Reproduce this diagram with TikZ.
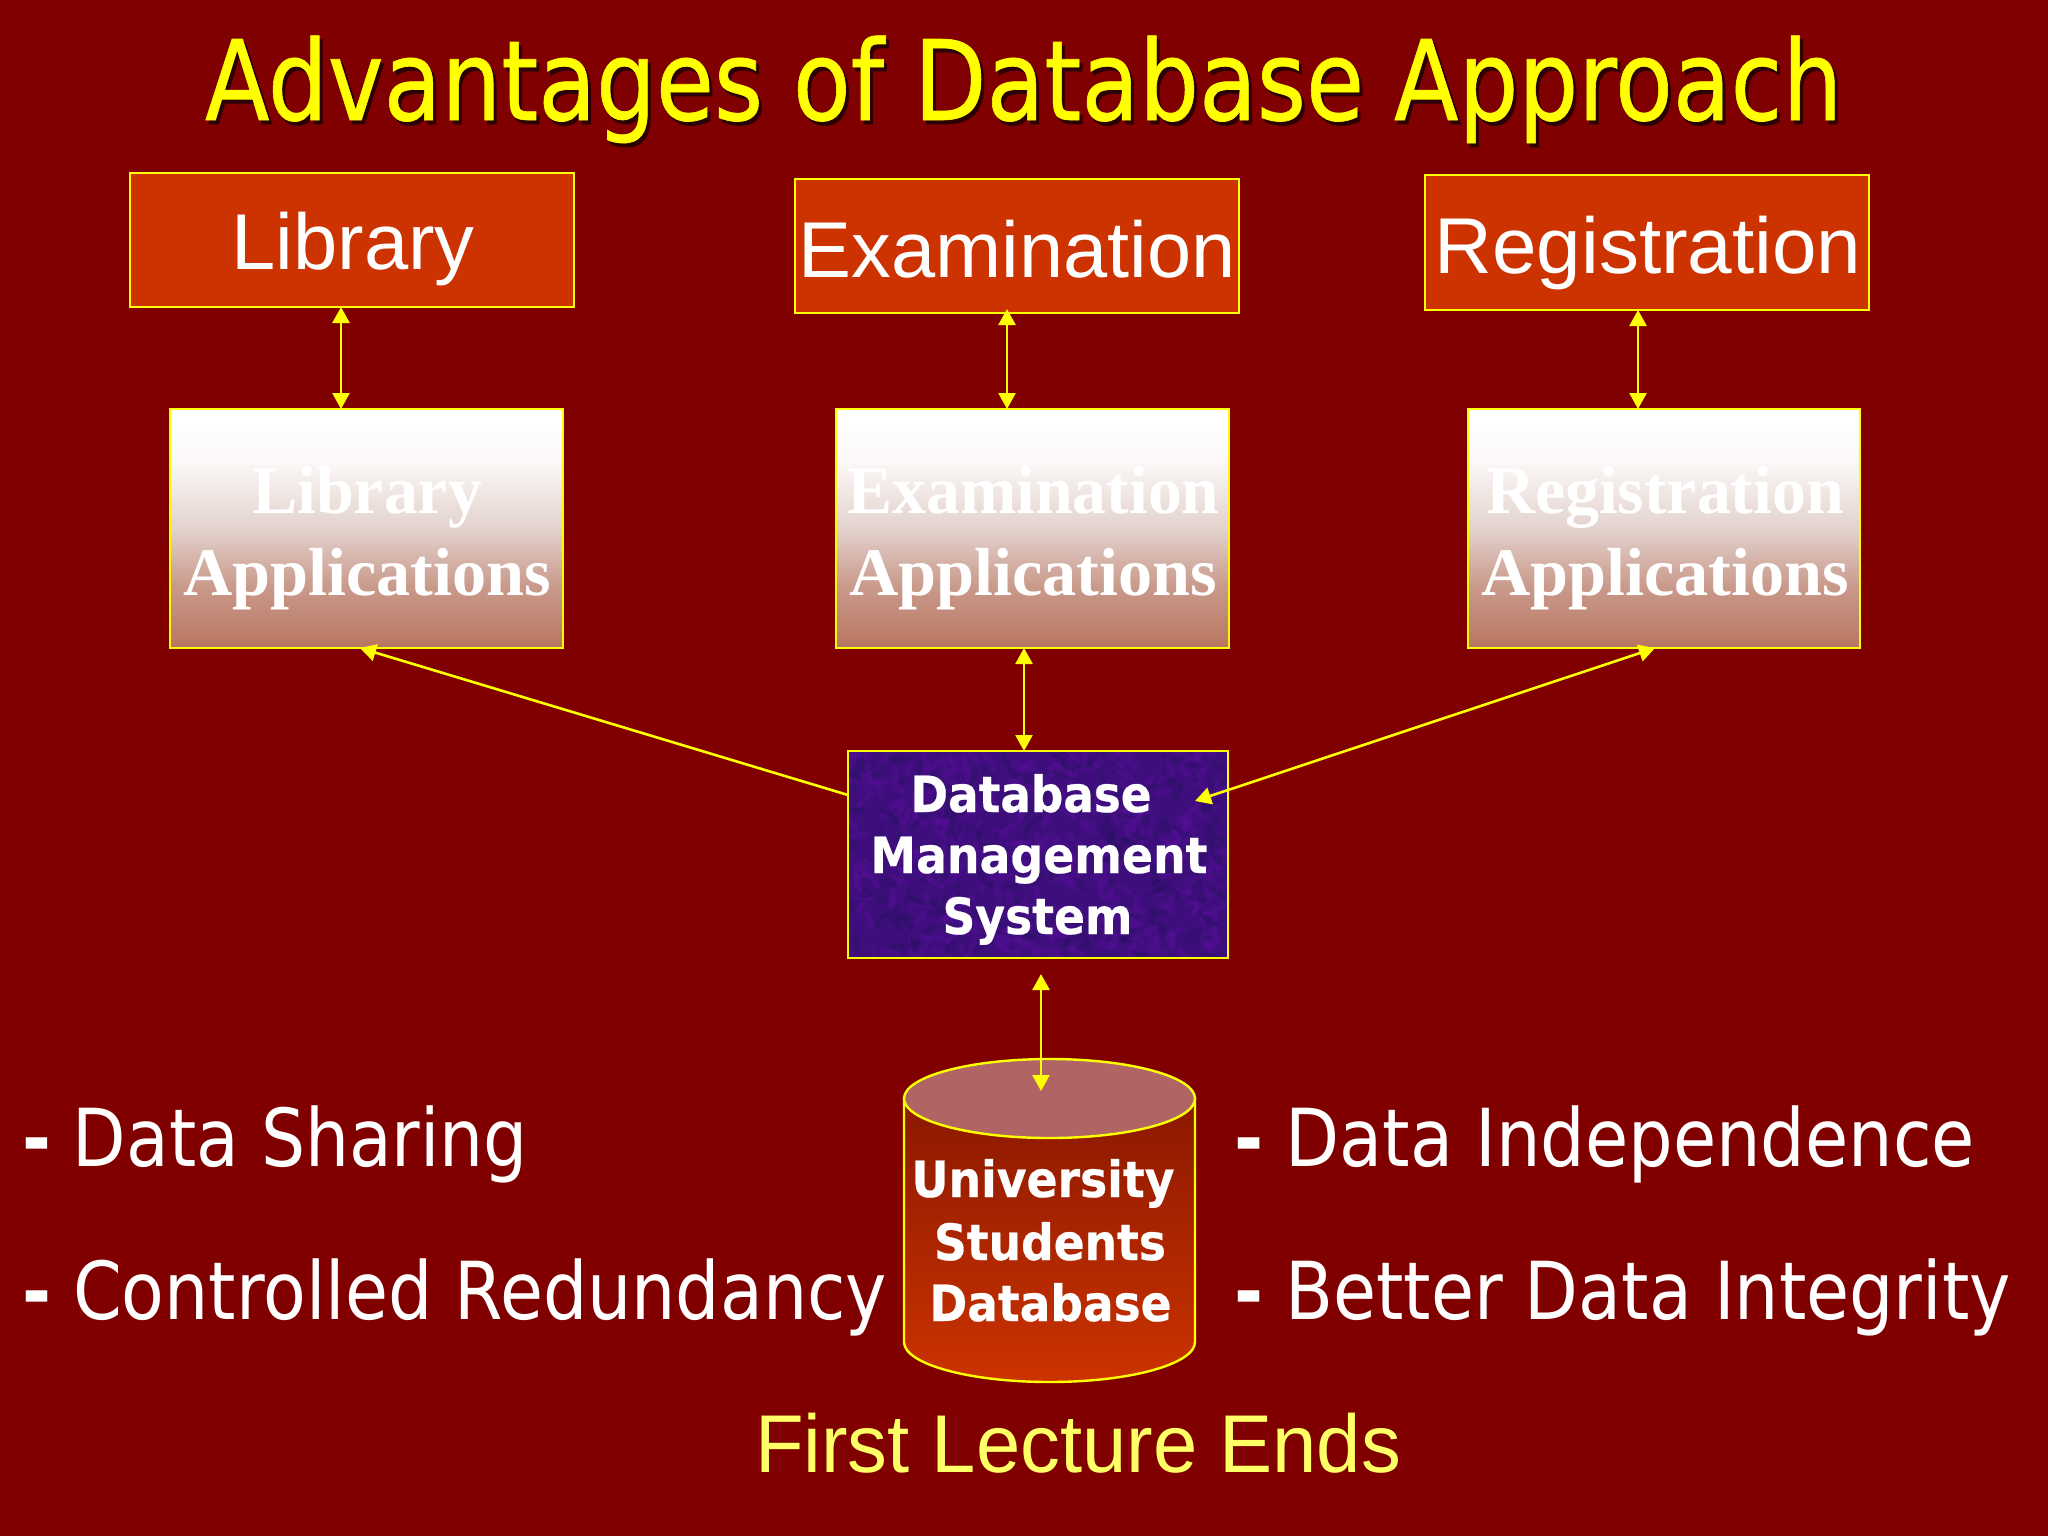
\documentclass[tikz,border=0pt]{standalone}
\usepackage{fontspec}
\usepackage{graphicx}
\usetikzlibrary{arrows.meta,fit,shapes.geometric,calc}
\setmainfont{Liberation Sans}
\newfontfamily\serifbold{Liberation Serif}[BoldFont={Liberation Serif Bold}]
\newfontfamily\djv{DejaVu Sans}[BoldFont={DejaVu Sans Bold}]
\newfontfamily\djvheavy{DejaVu Sans}[FakeBold=0.6]
\newfontfamily\djvbolder{DejaVu Sans Bold}[FakeBold=0.5]
\definecolor{bgred}{HTML}{800000}
\definecolor{boxred}{HTML}{CC3300}
\definecolor{lineyellow}{HTML}{FFFF00}
\definecolor{paleyellow}{HTML}{FFFF66}
\definecolor{appbot}{HTML}{B87560}
\definecolor{appmid1}{HTML}{C99A8B}
\definecolor{appmid2}{HTML}{E3D2CD}
\definecolor{appmid3}{HTML}{FBF8F7}
\definecolor{cyltop}{HTML}{B06464}
\definecolor{cyldark}{HTML}{8A1800}
\definecolor{cylmid}{HTML}{B02C00}
\definecolor{dbblue}{HTML}{3E0F7C}
\definecolor{dbpurple}{HTML}{5A0E9C}
\definecolor{dbdark}{HTML}{280F62}
\definecolor{shadowc}{HTML}{2A0000}
\pgfdeclareverticalshading{appshade}{100bp}{color(0bp)=(appbot); color(25bp)=(appbot); color(38bp)=(appmid1); color(50bp)=(appmid2); color(64bp)=(appmid3); color(72bp)=(white); color(100bp)=(white)}
\newlength\mylen
\newcommand\fitw[2]{\settowidth{\mylen}{#2}\pgfmathsetmacro{\myratio}{#1*0.5/\mylen}\scalebox{\myratio}[1]{#2}}
\newcommand\dsh{{\bfseries -}}
\tikzset{
  boxline/.style={draw=lineyellow,line width=1.2pt},
  topbox/.style={boxline,fill=boxred,inner sep=0pt,outer sep=0pt},
  appbox/.style={boxline,shading=appshade,inner sep=0pt,outer sep=0pt},
  txt/.style={anchor=base,inner sep=0pt,outer sep=0pt},
  toptxt/.style={txt,white,font=\fontsize{39.6}{40}\selectfont},
  apptxt/.style={txt,white,font=\fontsize{34}{36}\serifbold\bfseries\selectfont},
  boldtxt/.style={txt,white,font=\fontsize{25}{26}\djvbolder\selectfont},
  sidetxt/.style={txt,anchor=base west,white,font=\fontsize{40}{42}\djv\selectfont},
  titletxt/.style={txt,font=\fontsize{55.5}{58}\djvheavy\selectfont},
  link/.style={draw=lineyellow,line width=1.3pt},
  both/.style={link,{Triangle[width=8.5pt,length=8pt]}-{Triangle[width=8.5pt,length=8pt]}},
  one/.style={link,-{Triangle[width=8.5pt,length=8pt]}}
}
\begin{document}
\begin{tikzpicture}[x=0.5pt,y=-0.5pt]
\useasboundingbox (0,0) rectangle (2048,1536);
\fill[bgred] (0,0) rectangle (2048,1536);
% title
\node[titletxt,shadowc] (titleshadow) at (1026.5,124) {\fitw{1637}{Advantages of Database Approach}};
\node[titletxt,lineyellow] (title) at (1023.5,120) {\fitw{1637}{Advantages of Database Approach}};
% top boxes
\node[topbox,fit={(130,173)(574,307)}] (lib) {};
\node[topbox,fit={(795,179)(1239,313)}] (exam) {};
\node[topbox,fit={(1425,175)(1869,310)}] (reg) {};
\node[toptxt] (libt) at (353,269) {\fitw{243}{Library}};
\node[toptxt] (examt) at (1017,277) {\fitw{437}{Examination}};
\node[toptxt] (regt) at (1648,273) {\fitw{427}{Registration}};
% application boxes
\node[appbox,fit={(170,409)(563,648)}] (libapp) {};
\node[appbox,fit={(836,409)(1229,648)}] (examapp) {};
\node[appbox,fit={(1468,409)(1860,648)}] (regapp) {};
\node[apptxt] (la1) at (367,513) {\fitw{230}{Library}};
\node[apptxt] (la2) at (367,595) {\fitw{368}{Applications}};
\node[apptxt] (ea1) at (1033.5,513) {\fitw{372}{Examination}};
\node[apptxt] (ea2) at (1033,595) {\fitw{368}{Applications}};
\node[apptxt] (ra1) at (1665,513) {\fitw{358}{Registration}};
\node[apptxt] (ra2) at (1665,595) {\fitw{368}{Applications}};
% DBMS
\node[fill=dbblue,inner sep=0pt,outer sep=0pt,fit={(848,751)(1228,958)}] (dbms) {};
\begin{scope}
\clip (dbms.south west) rectangle (dbms.north east);
\pgfmathsetseed{17}
\foreach \i in {1,...,560}{
  \pgfmathsetmacro{\px}{848+380*rnd}
  \pgfmathsetmacro{\py}{751+207*rnd}
  \pgfmathsetmacro{\pa}{180*rnd}
  \pgfmathsetmacro{\pk}{rnd<0.6 ? 1 : 0}
  \ifdim\pk pt>0.5pt\def\pc{dbpurple}\else\def\pc{dbdark}\fi
  \fill[\pc,opacity=0.35,rotate around={\pa:(\px,\py)}] (\px,\py) ellipse [x radius=5pt,y radius=1.6pt];
}
\end{scope}
\draw[boxline] (dbms.south west) rectangle (dbms.north east);
\node[boldtxt] (d1) at (1031,812) {\fitw{241}{Database}};
\node[boldtxt] (d2) at (1039,873) {\fitw{337}{Management}};
\node[boldtxt] (d3) at (1037.5,934) {\fitw{190}{System}};
% cylinder
\path[boxline,top color=cyldark,middle color=cylmid,bottom color=boxred] (904,1098) -- (904,1342)
  .. controls (904,1364) and (969,1382) .. (1049.5,1382)
  .. controls (1130,1382) and (1195,1364) .. (1195,1342) -- (1195,1098) -- cycle;
\node[ellipse,boxline,fill=cyltop,minimum width=145.5pt,minimum height=39.5pt,inner sep=0pt,outer sep=0pt] (dbtop) at (1049.5,1098.5) {};
\node[boldtxt] (u1) at (1043,1197) {\fitw{263}{University}};
\node[boldtxt] (u2) at (1050,1260) {\fitw{232}{Students}};
\node[boldtxt] (u3) at (1050.5,1321) {\fitw{242}{Database}};
% connectors
\coordinate (xlib) at (341,0);
\coordinate (xexam) at (1007,0);
\coordinate (xreg) at (1638,0);
\coordinate (xmid) at (1024,0);
\coordinate (examlow) at (1007,309);
\coordinate (dbup) at (1041,974);
\coordinate (dbdown) at (1041,1091);
\coordinate (leftin) at (848,795);
\coordinate (leftapp) at (360,648);
\coordinate (rightin) at (1195,801);
\coordinate (rightapp) at (1655,648);
\draw[both] (lib.south -| xlib) -- (libapp.north -| xlib);
\draw[both] (examlow) -- (examapp.north -| xexam);
\draw[both] (reg.south -| xreg) -- (regapp.north -| xreg);
\draw[both] (examapp.south -| xmid) -- (dbms.north -| xmid);
\draw[both] (dbup) -- (dbdown);
\draw[one] (leftin) -- (leftapp);
\draw[both] (rightin) -- (rightapp);
% side texts
\node[sidetxt] (s1) at (22,1166) {\fitw{506}{\dsh{} Data Sharing}};
\node[sidetxt] (s2) at (22,1319) {\fitw{865}{\dsh{} Controlled Redundancy}};
\node[sidetxt] (s3) at (1234,1166) {\fitw{741}{\dsh{} Data Independence}};
\node[sidetxt] (s4) at (1234,1319) {\fitw{777}{\dsh{} Better Data Integrity}};
\node[txt,paleyellow,font=\fontsize{41}{42}\selectfont] (ends) at (1078,1472) {\fitw{646}{First Lecture Ends}};
\end{tikzpicture}
\end{document}
